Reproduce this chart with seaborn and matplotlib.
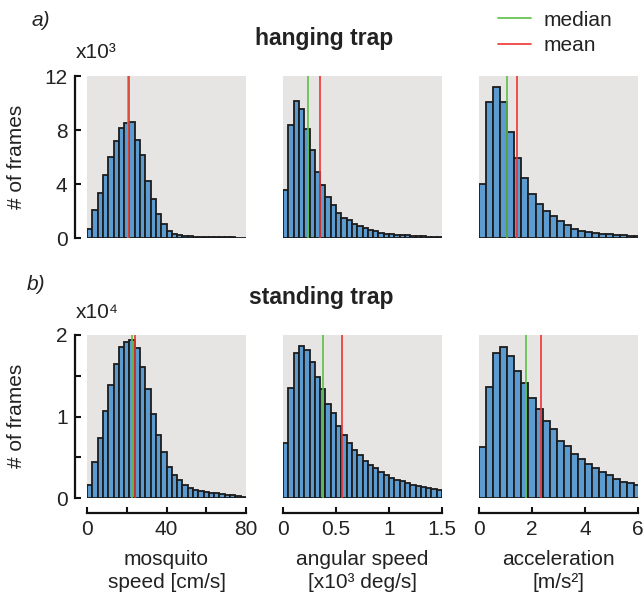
import pandas as pd
import matplotlib.pyplot as plt
import seaborn as sns

# histogram counts (top row in x10^3, bottom row in x10^4)
hang_speed = [0.67, 2.05, 3.36, 4.69, 6.02, 7.16, 8.17, 8.54, 8.57, 7.28,
              6.15, 4.22, 2.86, 1.78, 1.06, 0.49, 0.30, 0.20, 0.15, 0.12,
              0.10, 0.08, 0.07, 0.06, 0.05, 0.05, 0.04, 0.04, 0.03, 0.03]
hang_ang = [3.56, 8.35, 10.12, 9.58, 8.05, 6.49, 4.91, 3.90, 3.06, 2.47,
            1.83, 1.51, 1.33, 1.01, 0.89, 0.72, 0.59, 0.49, 0.40, 0.32,
            0.30, 0.25, 0.22, 0.20, 0.17, 0.15, 0.12, 0.10, 0.10, 0.08]
hang_acc = [4.02, 10.05, 11.21, 10.07, 7.83, 5.90, 4.44, 3.28, 2.49, 2.00,
            1.60, 1.26, 0.95, 0.70, 0.55, 0.44, 0.36, 0.30, 0.26, 0.22,
            0.19, 0.16, 0.12]

stand_speed = [0.156, 0.439, 0.734, 1.066, 1.381, 1.648, 1.848, 1.918, 1.939, 1.840,
               1.607, 1.332, 1.033, 0.770, 0.561, 0.381, 0.287, 0.225, 0.164, 0.123,
               0.102, 0.086, 0.074, 0.066, 0.057, 0.049, 0.041, 0.033, 0.025, 0.016]
stand_ang = [0.676, 1.348, 1.783, 1.869, 1.811, 1.668, 1.484, 1.332, 1.148, 1.037,
             0.881, 0.775, 0.676, 0.594, 0.525, 0.459, 0.410, 0.369, 0.316, 0.283,
             0.246, 0.217, 0.205, 0.184, 0.164, 0.152, 0.135, 0.119, 0.111, 0.098]
stand_acc = [0.631, 1.361, 1.775, 1.848, 1.738, 1.557, 1.406, 1.225, 1.086, 0.947,
             0.844, 0.705, 0.643, 0.545, 0.484, 0.422, 0.373, 0.320, 0.279, 0.238,
             0.201, 0.180, 0.160]

# median / mean per panel
hang_median = [20.5, 0.239, 1.045]
hang_mean = [20.9, 0.352, 1.42]
stand_median = [22.6, 0.374, 1.785]
stand_mean = [24.0, 0.554, 2.33]

bin_widths = [80 / 30, 1.5 / 30, 4 / 15]
x_limits = [80, 1.5, 6]
x_ticks = [[0, 20, 40, 60, 80], [0, 0.5, 1, 1.5], [0, 2, 4, 6]]
x_ticklabels = [["0", "", "40", "", "80"], ["0", "0.5", "1", "1.5"], ["0", "2", "4", "6"]]
x_labels = ["mosquito\nspeed [cm/s]", "angular speed\n[x10³ deg/s]", "acceleration\n[m/s²]"]

sns.set_theme(style="white", rc={"axes.facecolor": "#e6e5e3"})
plt.rcParams["font.family"] = ["Liberation Sans", "DejaVu Sans"]
plt.rcParams["font.size"] = 15

BAR = "#5b9bd0"
EDGE = "#1c1c1c"
GREEN = "#5cbf45"
RED = "#ee3333"
TXT = "#222222"

fig = plt.figure(figsize=(6.44, 6.0), dpi=100)
W, H = 644, 600
col_left = [87, 283, 479]
rows = [(76, 238), (335, 498)]


def px_axes(x0, y_top, y_bot):
    return fig.add_axes([x0 / W, 1 - y_bot / H, 159 / W, (y_bot - y_top) / H])


row_data = [
    (hang_speed, hang_ang, hang_acc, hang_median, hang_mean, 12, [0, 4, 8, 12], ["0", "4", "8", "12"]),
    (stand_speed, stand_ang, stand_acc, stand_median, stand_mean, 2,
     [0, 0.5, 1, 1.5, 2], ["0", "", "1", "", "2"]),
]

first_ax = None
for r, (y_top, y_bot) in enumerate(rows):
    series = row_data[r][:3]
    medians, means, ymax, yt, ytl = row_data[r][3:]
    for c in range(3):
        ax = px_axes(col_left[c], y_top, y_bot)
        counts = list(series[c])
        bw = bin_widths[c]
        df = pd.DataFrame({"center": [(i + 0.5) * bw for i in range(len(counts))],
                           "count": counts})
        sns.histplot(data=df, x="center", weights="count", binwidth=bw,
                     binrange=(0, len(counts) * bw), ax=ax, color=BAR,
                     edgecolor=EDGE, linewidth=1.3, alpha=1)
        ax.axvline(medians[c], color=GREEN, lw=1.2, label="median")
        ax.axvline(means[c], color=RED, lw=1.2, label="mean")
        ax.set_xlim(0, x_limits[c])
        ax.set_ylim(0, ymax)
        ax.set_ylabel("")
        ax.set_xlabel("")
        for s in ["top", "right"]:
            ax.spines[s].set_visible(False)
        ax.tick_params(direction="in", length=4.5, width=1.5, colors="#111111",
                       labelcolor=TXT, labelsize=15, pad=5, left=True, bottom=True)
        if c == 0:
            ax.spines["left"].set_position(("outward", 9))
            ax.spines["left"].set_linewidth(1.6)
            ax.spines["left"].set_color("#111111")
            ax.set_yticks(yt, ytl)
        else:
            ax.spines["left"].set_visible(False)
            ax.set_yticks([])
        if r == 1:
            ax.spines["bottom"].set_position(("outward", 11))
            ax.spines["bottom"].set_linewidth(1.6)
            ax.spines["bottom"].set_color("#111111")
            ax.set_xticks(x_ticks[c], x_ticklabels[c])
            ax.set_xlabel(x_labels[c], fontsize=15, color=TXT, labelpad=8,
                          linespacing=1.25)
        else:
            ax.spines["bottom"].set_visible(False)
            ax.set_xticks([])
        if first_ax is None:
            first_ax = ax

# titles, panel letters and scale notes
fig.text(324 / W, 1 - 45 / H, "hanging trap", ha="center", va="baseline",
         fontsize=16.5, fontweight="bold", color=TXT)
fig.text(321 / W, 1 - 304 / H, "standing trap", ha="center", va="baseline",
         fontsize=16.5, fontweight="bold", color=TXT)
fig.text(32 / W, 1 - 20 / H, "a)", ha="left", va="center", fontsize=15,
         style="italic", color=TXT)
fig.text(27 / W, 1 - 285 / H, "b)", ha="left", va="center", fontsize=15,
         style="italic", color=TXT)
fig.text(76 / W, 1 - 53 / H, "x10³", ha="left", va="center", fontsize=15, color=TXT)
fig.text(76 / W, 1 - 312 / H, "x10⁴", ha="left", va="center", fontsize=15, color=TXT)
for yc in [157, 416]:
    fig.text(17 / W, 1 - yc / H, "# of frames", ha="center", va="center",
             rotation=90, fontsize=15, color=TXT)

handles, labels = first_ax.get_legend_handles_labels()
fig.legend(handles, labels, loc="upper left", bbox_to_anchor=(483 / W, 1 + 4 / H),
           frameon=False, fontsize=15, handlelength=1.6, handletextpad=0.6,
           labelspacing=0.3, borderpad=0.2, labelcolor=TXT)

fig.savefig("out.png", dpi=100)
